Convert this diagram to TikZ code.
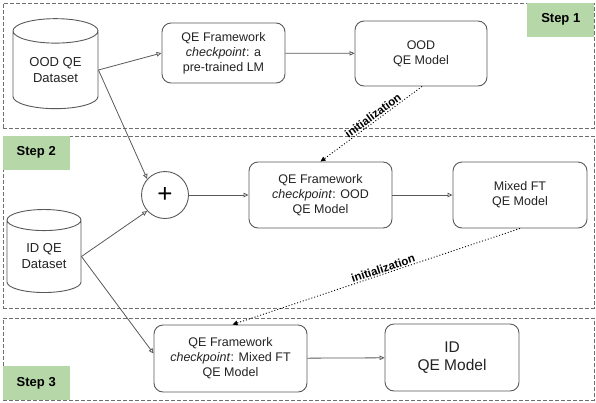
\documentclass[tikz,border=0pt]{standalone}
\usepackage{fontspec}
\setmainfont{Liberation Sans}
\usetikzlibrary{arrows.meta, shapes.geometric}
\definecolor{stepgreen}{HTML}{B6D7A8}
\definecolor{linegray}{HTML}{595959}
\definecolor{framegray}{HTML}{6E6E6E}
\definecolor{textdark}{HTML}{222222}
\tikzset{
    stepframe/.style={
        rectangle, draw=framegray, dash pattern=on 4pt off 2pt, line width=0.9pt,
        inner sep=0pt
    },
    steplabel/.style={
        rectangle, fill=stepgreen, minimum width=67pt, minimum height=34pt,
        inner sep=0pt, font=\bfseries\fontsize{13}{15}\selectfont
    },
    process/.style={
        rectangle, rounded corners=9pt, draw=linegray, line width=0.9pt,
        align=center, inner sep=0pt, text=textdark,
        font=\fontsize{12.5}{15}\selectfont
    },
    dataset/.style={
        cylinder, shape border rotate=90, aspect=0.47, draw=linegray,
        line width=0.9pt, align=center, inner sep=0pt, text=textdark,
        font=\fontsize{13}{16}\selectfont
    },
    plusnode/.style={
        circle, draw=linegray, line width=0.9pt, minimum size=47pt, inner sep=0pt,
        font=\fontsize{26}{26}\selectfont
    },
    arrow/.style={-{Triangle[open, length=5pt, width=4.5pt]}, draw=linegray, line width=0.8pt},
    initarrow/.style={-{Triangle[length=5pt, width=4.5pt]}, draw=black, line width=0.9pt,
        dash pattern=on 1pt off 2pt},
    initlabel/.style={font=\bfseries\fontsize{11.5}{13}\selectfont, inner sep=1pt}
}

\begin{document}
\begin{tikzpicture}[x=1pt, y=-1pt]
\useasboundingbox (0,0) rectangle (596,402);

% === STEP FRAMES ===
\node (stepone)   [stepframe, minimum width=591pt, minimum height=125pt] at (298.5,65.5) {};
\node (steptwo)   [stepframe, minimum width=591pt, minimum height=172pt] at (298.5,222) {};
\node (stepthree) [stepframe, minimum width=591pt, minimum height=82pt]  at (298.5,359) {};
\node (labelone)   [steplabel, anchor=north east] at (stepone.north east)   {Step 1};
\node (labeltwo)   [steplabel, anchor=north west] at (steptwo.north west)   {Step 2};
\node (labelthree) [steplabel, anchor=south west] at (stepthree.south west) {Step 3};

% === STEP 1 ===
\node (oodset)   [dataset, minimum width=85pt, minimum height=90pt] at (55.5,70) {OOD QE\\Dataset};
\node (fwone)    [process, minimum width=123pt, minimum height=60pt] at (223.5,53) {QE Framework\\\textit{checkpoint}: a\\pre-trained LM};
\node (oodmodel) [process, minimum width=132pt, minimum height=65pt] at (421,53.5) {OOD\\QE Model};

% === STEP 2 ===
\node (plus)     [plusnode] at (165,195) {+};
\node (idset)    [dataset, minimum width=74pt, minimum height=83pt] at (44,256.5) {ID QE\\Dataset};
\node (fwtwo)    [process, minimum width=143pt, minimum height=66pt] at (320.5,195) {QE Framework\\\textit{checkpoint}: OOD\\QE Model};
\node (mixmodel) [process, minimum width=134pt, minimum height=66pt] at (520,195) {Mixed FT\\QE Model};

% === STEP 3 ===
\node (fwthree)  [process, minimum width=153pt, minimum height=67pt] at (230.5,358.5) {QE Framework\\\textit{checkpoint}: Mixed FT\\QE Model};
\node (idmodel)  [process, minimum width=134pt, minimum height=67pt, font=\fontsize{15.5}{18}\selectfont] at (452,357.5) {ID\\QE Model};

% === ARROWS ===
\draw [arrow] (oodset.east) -- (fwone.west);
\draw [arrow] (fwone) -- (oodmodel);
\draw [arrow] (oodset.east) -- (plus.138);
\draw [arrow] (idset.east) -- (plus.222);
\draw [arrow] (plus) -- (fwtwo);
\draw [arrow] (fwtwo) -- (mixmodel);
\draw [arrow] (idset.east) -- ([yshift=5pt]fwthree.west);
\draw [arrow] (fwthree) -- (idmodel);

\draw [initarrow] ([xshift=1pt]oodmodel.south) -- node[initlabel, sloped, above, pos=0.45] {initialization} (fwtwo.north);
\draw [initarrow] (mixmodel.south) -- node[initlabel, sloped, above, pos=0.47] {initialization} ([xshift=2pt]fwthree.north);

\end{tikzpicture}
\end{document}
